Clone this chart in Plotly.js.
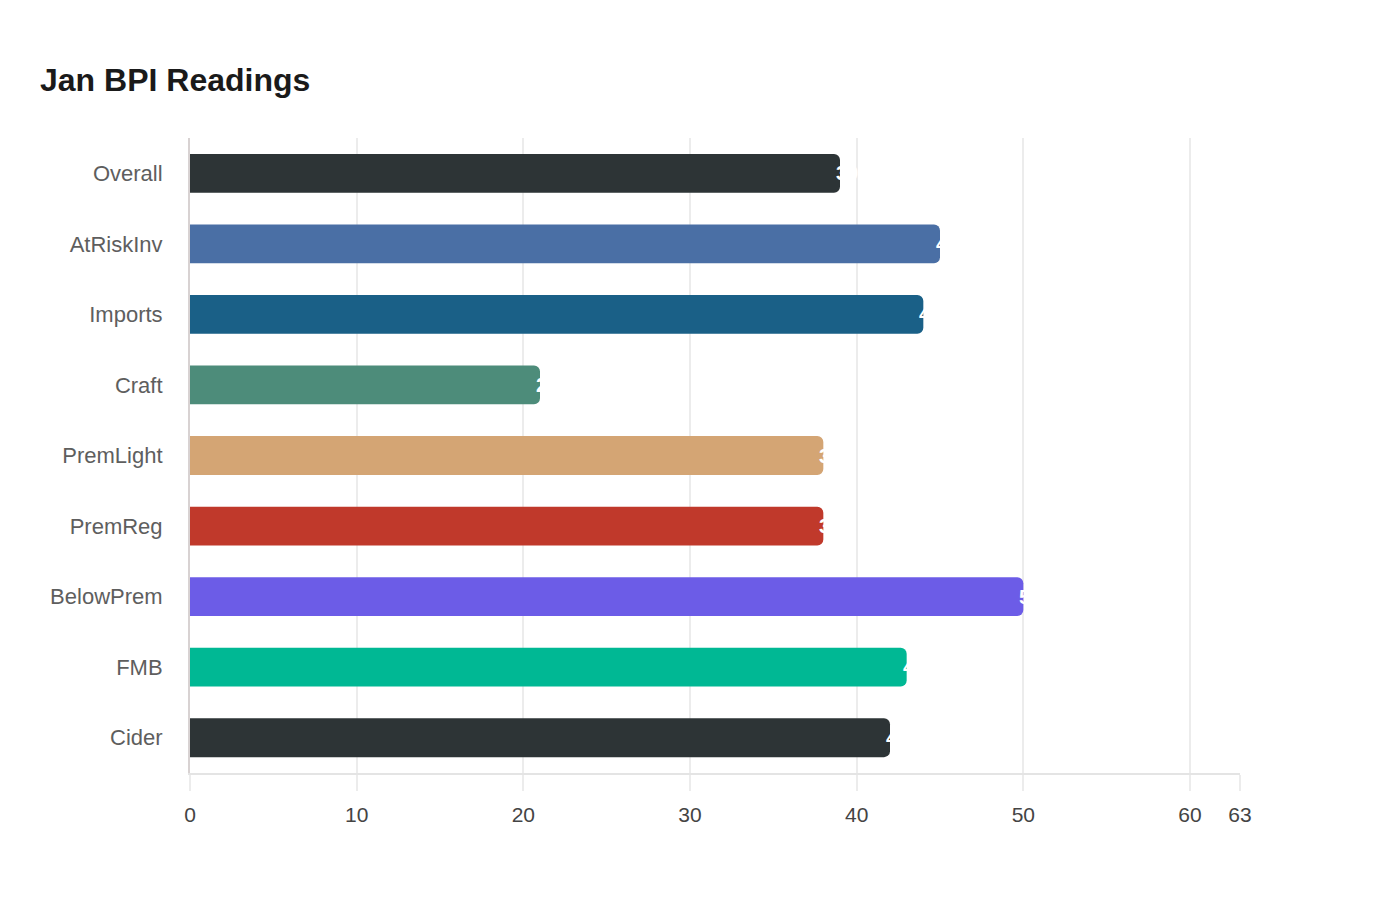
<!DOCTYPE html>
<html>
<head>
<meta charset="utf-8">
<script src="https://cdn.plot.ly/plotly-3.0.1.min.js"></script>
<style>
  html, body { margin: 0; padding: 0; background: #ffffff; }
  #chart { width: 1400px; height: 900px; }
</style>
</head>
<body>
<div id="chart"></div>
<script>
const categories = ['Overall', 'AtRiskInv', 'Imports', 'Craft', 'PremLight', 'PremReg', 'BelowPrem', 'FMB', 'Cider'];
const readings = [39, 45, 44, 21, 38, 38, 50, 43, 42];
const barColors = ['#2d3436', '#4a6fa5', '#1a6087', '#4d8c7a', '#d4a574', '#c0392b', '#6c5ce7', '#00b894', '#2d3436'];
const tickVals = [0, 10, 20, 30, 40, 50, 60, 63];

const font = 'Liberation Sans, Arial, sans-serif';

// value labels sit on the bar ends, white, mostly lost on the background
const labels = categories.map((c, i) => ({
  x: readings[i],
  y: c,
  xref: 'x',
  yref: 'y',
  text: '<b>' + readings[i] + '</b>',
  showarrow: false,
  xanchor: 'left',
  xshift: -6,
  font: {family: font, size: 20, color: '#ffffff'},
}));

Plotly.newPlot('chart', [{
  type: 'bar',
  orientation: 'h',
  x: readings,
  y: categories,
  marker: {color: barColors, cornerradius: 6},
  hoverinfo: 'x+y',
}], {
  title: {
    text: '<b>Jan BPI Readings</b>',
    x: 40 / 1400,
    xref: 'container',
    xanchor: 'left',
    y: 0.911,
    yref: 'container',
    yanchor: 'middle',
    font: {family: font, size: 32, color: '#1a1a1a'},
  },
  margin: {l: 190, r: 160, t: 138, b: 127},
  width: 1400,
  height: 900,
  bargap: 0.45,
  xaxis: {
    range: [0, 63],
    tickvals: tickVals,
    ticktext: tickVals.map(String),
    ticks: 'outside',
    ticklen: 16,
    tickwidth: 2,
    tickcolor: '#ececec',
    ticklabelstandoff: 6,
    tickfont: {family: font, size: 21, color: '#444444'},
    showgrid: true,
    gridcolor: '#ececec',
    gridwidth: 1.5,
    showline: true,
    linecolor: '#e4e4e4',
    linewidth: 2,
    zeroline: false,
    fixedrange: true,
  },
  yaxis: {
    autorange: 'reversed',
    showline: true,
    linecolor: '#d8d2d2',
    linewidth: 2,
    ticks: '',
    ticklabelstandoff: 21,
    tickfont: {family: font, size: 22, color: '#5e5e5e'},
    showgrid: false,
    zeroline: false,
    fixedrange: true,
  },
  annotations: labels,
  plot_bgcolor: '#ffffff',
  paper_bgcolor: '#ffffff',
  showlegend: false,
}, {displayModeBar: false});
</script>
</body>
</html>
